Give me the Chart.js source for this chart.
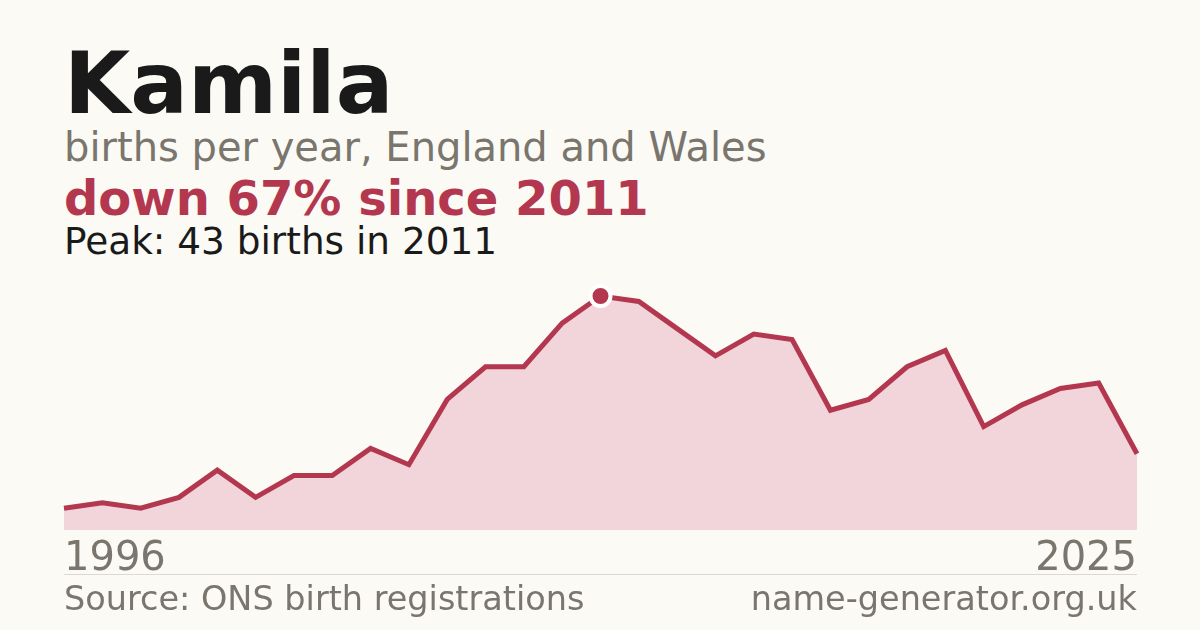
<!DOCTYPE html>
<html>
<head>
<meta charset="utf-8">
<script src="https://cdn.jsdelivr.net/npm/chart.js@4.4.1/dist/chart.umd.min.js"></script>
<style>
  html, body { margin: 0; padding: 0; }
  body {
    width: 1200px; height: 630px; overflow: hidden;
    background: #fbfaf5;
    font-family: "DejaVu Sans", sans-serif;
    position: relative;
  }
  .t { position: absolute; left: 64px; line-height: 1; white-space: nowrap; }
  #title { top: 41px; font-size: 85.5px; font-weight: bold; color: #1a1a1a; }
  #sub { top: 127px; font-size: 40px; color: #7a756d; }
  #change { top: 174px; font-size: 48px; font-weight: bold; color: #b3384f; }
  #peak { top: 223px; font-size: 37.4px; color: #1a1a1a; }
  #years { top: 536px; width: 1073px; font-size: 40px; color: #7a756d;
           display: flex; justify-content: space-between; }
  #rule { position: absolute; left: 64px; top: 574px; width: 1073px; height: 1px; background: #dcd9d2; }
  #foot { top: 582px; width: 1073px; font-size: 33.5px; color: #7a756d;
          display: flex; justify-content: space-between; }
  #wrap { position: absolute; left: 44px; top: 276px; width: 1113px; height: 274px; }
</style>
</head>
<body>
<div class="t" id="title">Kamila</div>
<div class="t" id="sub">births per year, England and Wales</div>
<div class="t" id="change">down 67% since 2011</div>
<div class="t" id="peak">Peak: 43 births in 2011</div>
<div id="wrap"><canvas id="nameChart"></canvas></div>
<div class="t" id="years"><span id="yFirst"></span><span id="yLast"></span></div>
<div id="rule"></div>
<div class="t" id="foot"><span>Source: ONS birth registrations</span><span>name-generator.org.uk</span></div>

<script>
// yearly births (29 points)
const years = [1997, 1998, 1999, 2000, 2001, 2002, 2003, 2004, 2005, 2006,
               2007, 2008, 2009, 2010, 2011, 2012, 2013, 2014, 2015, 2016,
               2017, 2018, 2019, 2020, 2021, 2022, 2023, 2024, 2025];
const births = [4, 5, 4, 6, 11, 6, 10, 10, 15, 12,
                24, 30, 30, 38, 43, 42, 37, 32, 36, 35,
                22, 24, 30, 33, 19, 23, 26, 27, 14];
const xTickLabels = ['1996', '2025'];

document.getElementById('yFirst').textContent = xTickLabels[0];
document.getElementById('yLast').textContent = xTickLabels[1];

// only the peak year gets a marker
const peakIdx = births.indexOf(Math.max(...births));
const radii = births.map((v, i) => i === peakIdx ? 10 : 0);

const ctx = document.getElementById('nameChart').getContext('2d');
new Chart(ctx, {
    type: 'line',
    data: {
        labels: years,
        datasets: [{
            data: births,
            borderColor: '#b3384f',
            borderWidth: 5,
            backgroundColor: '#f2d5da',
            fill: 'origin',
            tension: 0,
            clip: false,
            pointRadius: radii,
            pointHoverRadius: radii,
            pointBackgroundColor: '#b3384f',
            pointBorderColor: '#ffffff',
            pointBorderWidth: 4
        }]
    },
    options: {
        responsive: true,
        maintainAspectRatio: false,
        animation: false,
        layout: { padding: 20 },
        plugins: { legend: { display: false }, tooltip: { enabled: false } },
        scales: {
            x: { display: false },
            y: { display: false, min: 0, max: 43 }
        }
    }
});
</script>
</body>
</html>
